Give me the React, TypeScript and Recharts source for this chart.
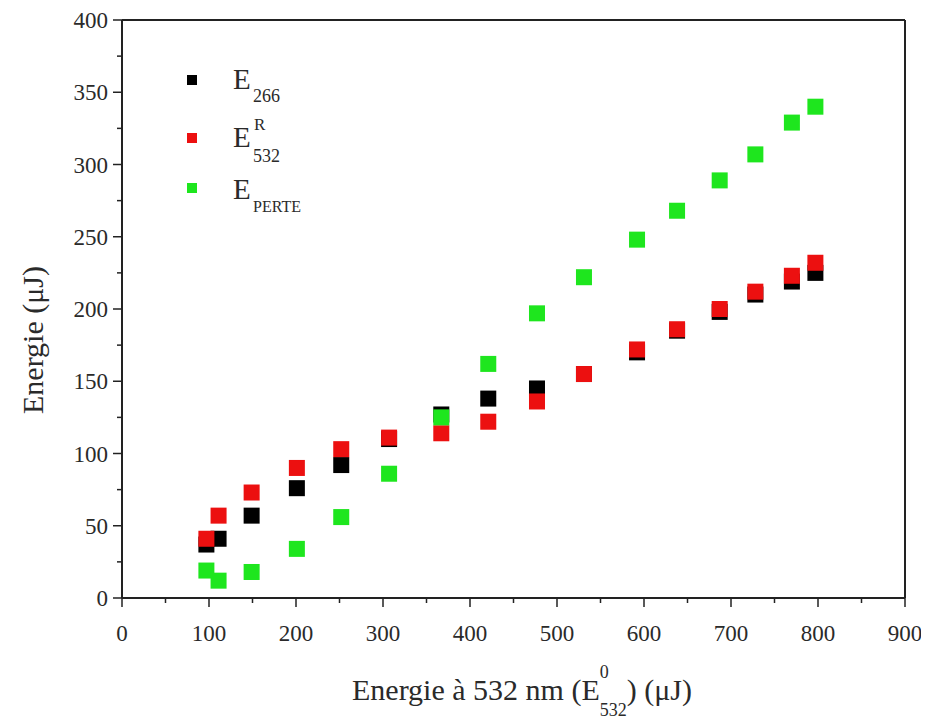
import React from 'react';
import { ScatterChart, Scatter, XAxis, YAxis, ReferenceLine, Legend, Label } from 'recharts';

// incident energy at 532 nm (uJ), shared by the three series
const energie0 = [97, 111, 149, 201, 252, 307, 367, 421, 477, 531, 592, 638, 687, 728, 770, 797];
const e266 = [37, 41, 57, 76, 92, 110, 127, 138, 145, 155, 170, 185, 198, 210, 219, 225];
const e532R = [41, 57, 73, 90, 103, 111, 114, 122, 136, 155, 172, 186, 200, 212, 223, 232];
const ePerte = [19, 12, 18, 34, 56, 86, 125, 162, 197, 222, 248, 268, 289, 307, 329, 340];

const xTicks = [0, 50, 100, 150, 200, 250, 300, 350, 400, 450, 500, 550, 600, 650, 700, 750, 800, 850, 900];
const yTicks = [0, 25, 50, 75, 100, 125, 150, 175, 200, 225, 250, 275, 300, 325, 350, 375, 400];

const font = '"Liberation Serif", "DejaVu Serif", serif';
const axisColor = '#222';
const textColor = '#2a2a2a';
const txt = { fontFamily: font, fill: textColor };

const toPoints = (values: number[]) => energie0.map((x, i) => ({ x, y: values[i] }));

const series = [
  { key: 'e266', data: toPoints(e266), color: '#000000' },
  { key: 'e532R', data: toPoints(e532R), color: '#ec1010' },
  { key: 'ePerte', data: toPoints(ePerte), color: '#1ee61e' },
];

function XTick(props: any) {
  const { x, y, payload } = props;
  const major = payload.value % 100 === 0;
  return (
    <g>
      <line x1={x} x2={x} y1={y} y2={y + (major ? 9 : 5)} stroke={axisColor} strokeWidth={1.5} />
      {major && (
        <text x={x} y={y + 43} textAnchor="middle" fontSize={23} style={txt}>
          {payload.value}
        </text>
      )}
    </g>
  );
}

function YTick(props: any) {
  const { x, y, payload } = props;
  const major = payload.value % 50 === 0;
  return (
    <g>
      <line x1={x} x2={x - (major ? 9 : 5)} y1={y} y2={y} stroke={axisColor} strokeWidth={1.5} />
      {major && (
        <text x={x - 14} y={y + 8} textAnchor="end" fontSize={23} style={txt}>
          {payload.value}
        </text>
      )}
    </g>
  );
}

function XTitle() {
  return (
    <text x={514} y={692} textAnchor="middle" fontSize={30} style={txt}>
      Energie à 532 nm (E
      <tspan fontSize={18} dy={-22}>0</tspan>
      <tspan fontSize={18} dx={-9} dy={38}>532</tspan>
      <tspan dy={-16}>) (μJ)</tspan>
    </text>
  );
}

function YTitle() {
  return (
    <text
      x={24}
      y={332}
      transform="rotate(-90 24 332)"
      textAnchor="middle"
      dominantBaseline="central"
      fontSize={30}
      style={txt}
    >
      Energie (μJ)
    </text>
  );
}

function SquareDot(props: any) {
  const { cx, cy, fill } = props;
  return <rect x={cx - 8} y={cy - 8} width={16} height={16} fill={fill} />;
}

function LegendBox() {
  return (
    <svg width={160} height={160} style={{ display: 'block', overflow: 'visible' }}>
      <rect x={0} y={7} width={10} height={10} fill={series[0].color} />
      <text x={46} y={21} fontSize={29} style={txt}>E</text>
      <text x={66} y={34} fontSize={18} style={txt}>266</text>

      <rect x={0} y={65} width={10} height={10} fill={series[1].color} />
      <text x={46} y={79} fontSize={29} style={txt}>E</text>
      <text x={67} y={62} fontSize={17} style={txt}>R</text>
      <text x={66} y={94} fontSize={18} style={txt}>532</text>

      <rect x={0} y={115} width={10} height={10} fill={series[2].color} />
      <text x={46} y={131} fontSize={29} style={txt}>E</text>
      <text x={66} y={144} fontSize={16} style={txt}>PERTE</text>
    </svg>
  );
}

export default function App() {
  return (
    <div style={{ width: 921, height: 712, fontFamily: font }}>
      <ScatterChart width={921} height={712} margin={{ top: 12, right: 24, bottom: 0, left: 0 }}>
        <XAxis
          type="number"
          dataKey="x"
          domain={[0, 900]}
          ticks={xTicks}
          interval={0}
          height={122}
          tickSize={0}
          tickMargin={0}
          tickLine={false}
          tick={<XTick />}
          axisLine={{ stroke: axisColor, strokeWidth: 2 }}
        >
          <Label content={<XTitle />} />
        </XAxis>
        <YAxis
          type="number"
          dataKey="y"
          domain={[0, 400]}
          ticks={yTicks}
          interval={0}
          width={114}
          tickSize={0}
          tickMargin={0}
          tickLine={false}
          tick={<YTick />}
          axisLine={{ stroke: axisColor, strokeWidth: 2 }}
        >
          <Label content={<YTitle />} />
        </YAxis>
        <ReferenceLine x={900} stroke={axisColor} strokeWidth={2} />
        <ReferenceLine y={400} stroke={axisColor} strokeWidth={2} />
        <Legend
          layout="vertical"
          align="center"
          verticalAlign="middle"
          content={() => <LegendBox />}
          wrapperStyle={{ left: 179, top: 60, width: 160, height: 160 }}
        />
        {series.map((s) => (
          <Scatter
            key={s.key}
            data={s.data}
            fill={s.color}
            shape={<SquareDot />}
            isAnimationActive={false}
          />
        ))}
      </ScatterChart>
    </div>
  );
}
